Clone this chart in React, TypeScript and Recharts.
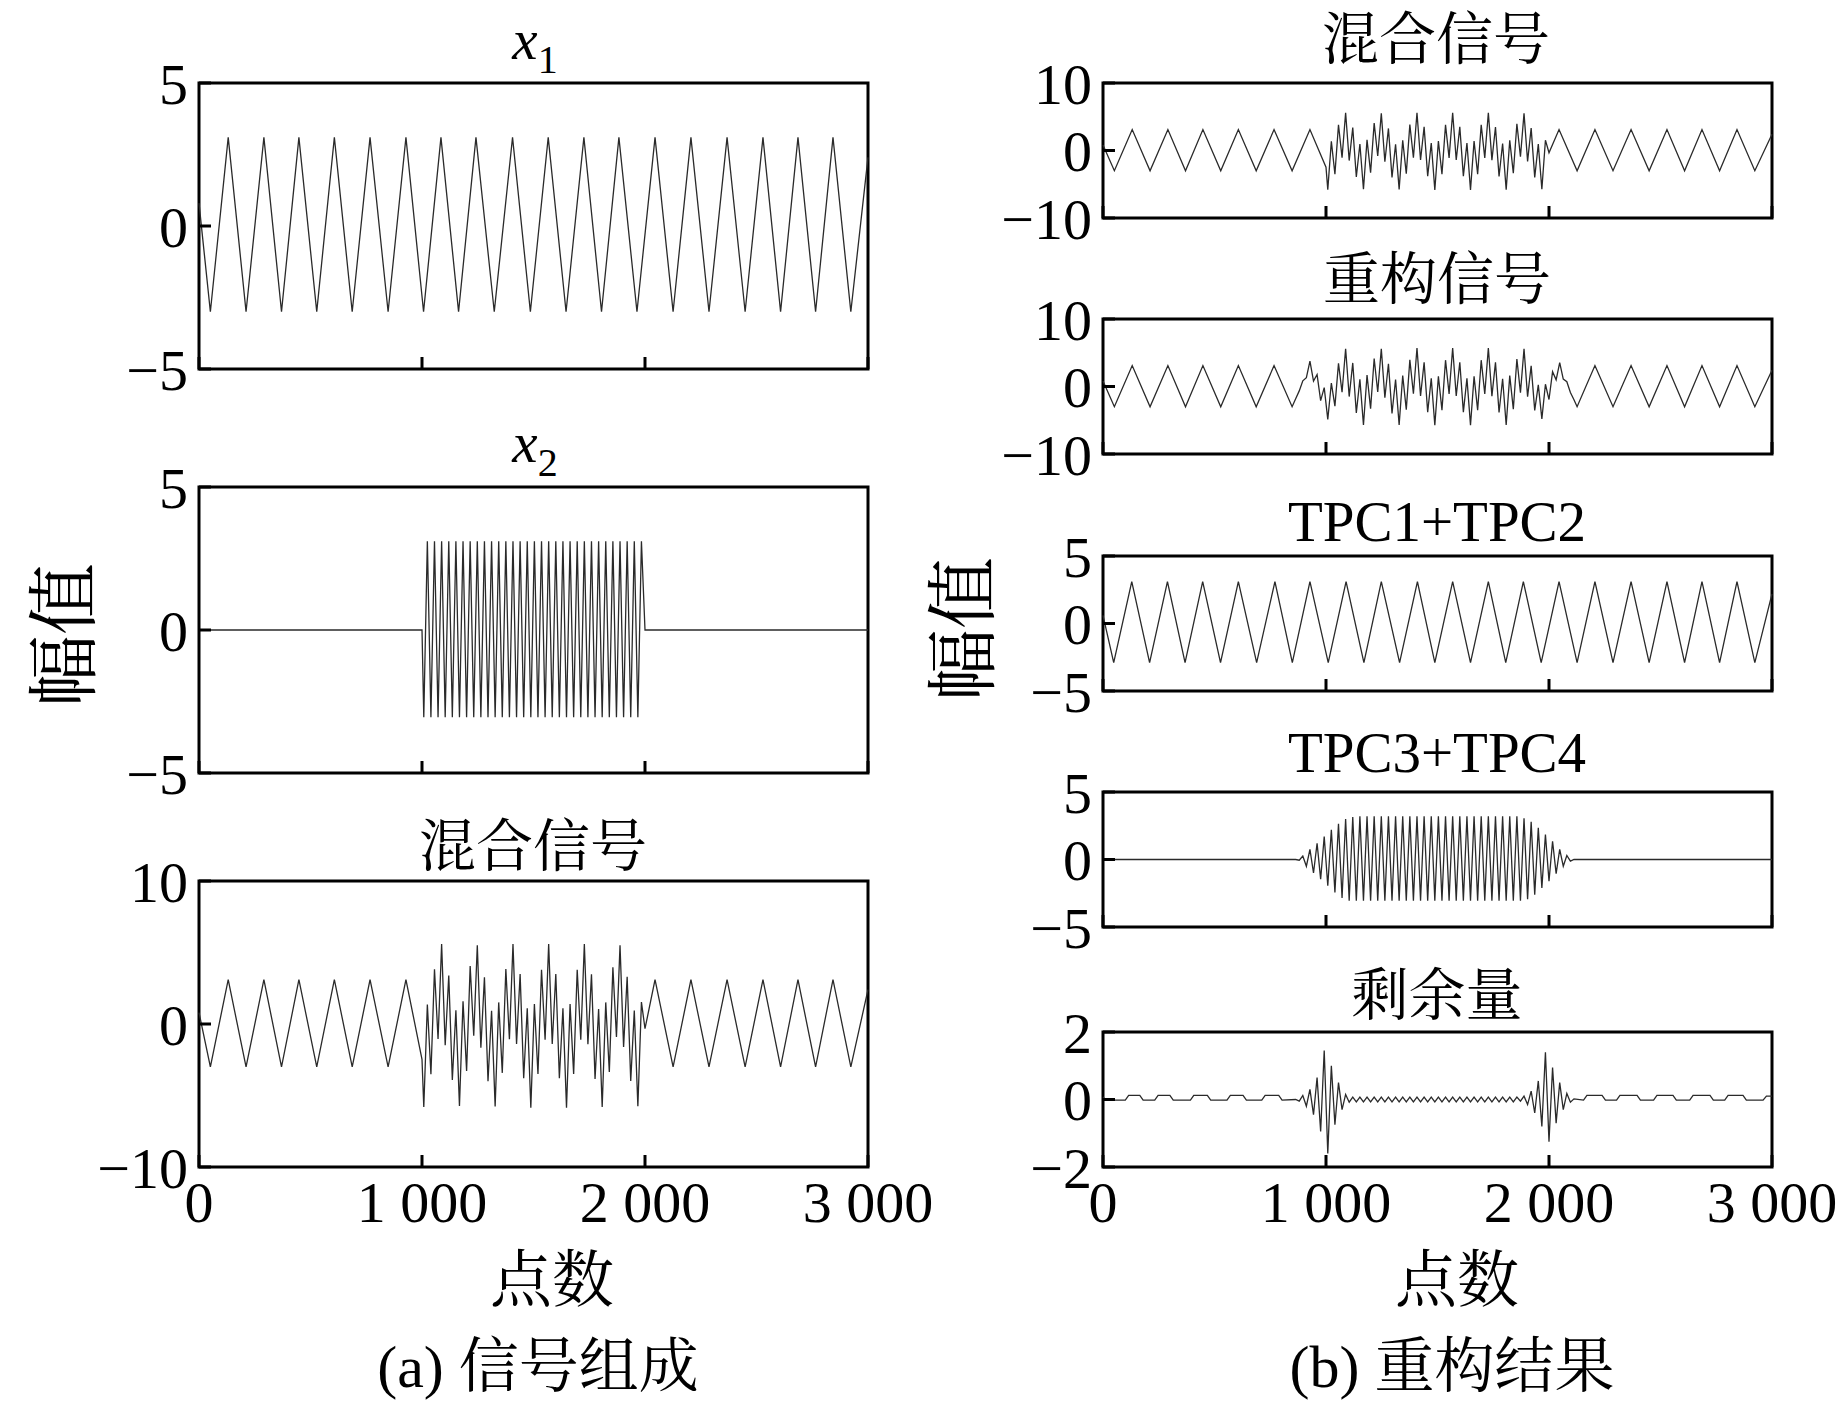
import { LineChart, Line, XAxis, YAxis, ReferenceArea } from "recharts";

type Pt = [number, number];

const X_TICKS = [0, 1000, 2000, 3000];

// x1: low-frequency component (peak / trough vertices)
const x1Signal: Pt[] = [
  [0, 0.8], [51, -3.0], [131, 3.1], [211, -3.0], [291, 3.1], [370, -3.0], [448, 3.1],
  [528, -3.0], [607, 3.1], [687, -3.0], [767, 3.1], [848, -3.0], [928, 3.1], [1007, -3.0],
  [1085, 3.1], [1164, -3.0], [1242, 3.1], [1324, -3.0], [1406, 3.1], [1486, -3.0],
  [1566, 3.1], [1646, -3.0], [1726, 3.1], [1805, -3.0], [1883, 3.1], [1964, -3.0],
  [2045, 3.1], [2126, -3.0], [2206, 3.1], [2287, -3.0], [2368, 3.1], [2449, -3.0],
  [2529, 3.1], [2608, -3.0], [2686, 3.1], [2765, -3.0], [2843, 3.1], [2923, -3.0], [3000, 2.4],
];

// x2: high-frequency burst between 1000 and 2000
const x2Signal: Pt[] = [
  [0, 0], [1000, 0],
  [1008, -3.05], [1024, 3.1], [1040, -3.05], [1056, 3.1], [1072, -3.05], [1088, 3.1],
  [1104, -3.05], [1120, 3.1], [1136, -3.05], [1152, 3.1], [1168, -3.05], [1184, 3.1],
  [1200, -3.05], [1216, 3.1], [1232, -3.05], [1248, 3.1], [1264, -3.05], [1280, 3.1],
  [1296, -3.05], [1312, 3.1], [1328, -3.05], [1344, 3.1], [1360, -3.05], [1376, 3.1],
  [1392, -3.05], [1408, 3.1], [1424, -3.05], [1440, 3.1], [1456, -3.05], [1472, 3.1],
  [1488, -3.05], [1504, 3.1], [1520, -3.05], [1536, 3.1], [1552, -3.05], [1568, 3.1],
  [1584, -3.05], [1600, 3.1], [1616, -3.05], [1632, 3.1], [1648, -3.05], [1664, 3.1],
  [1680, -3.05], [1696, 3.1], [1712, -3.05], [1728, 3.1], [1744, -3.05], [1760, 3.1],
  [1776, -3.05], [1792, 3.1], [1808, -3.05], [1824, 3.1], [1840, -3.05], [1856, 3.1],
  [1872, -3.05], [1888, 3.1], [1904, -3.05], [1920, 3.1], [1936, -3.05], [1952, 3.1],
  [1968, -3.05], [1984, 3.1], [2000, 0], [3000, 0],
];

// mixed signal
const mixedSignal: Pt[] = [
  [0, 0.8], [51, -3.0], [131, 3.1], [211, -3.0], [291, 3.1], [370, -3.0], [448, 3.1],
  [528, -3.0], [607, 3.1], [687, -3.0], [767, 3.1], [848, -3.0], [928, 3.1], [1000, -2.47],
  [1008, -5.8], [1024, 1.36], [1040, -3.51], [1056, 3.82], [1072, -1.05], [1088, 5.6],
  [1104, -1.49], [1120, 3.39], [1136, -3.92], [1152, 0.96], [1168, -5.74], [1184, 1.59],
  [1200, -3.28], [1216, 4.05], [1232, -0.82], [1248, 5.5], [1264, -1.66], [1280, 3.27],
  [1296, -4.0], [1312, 0.93], [1328, -5.76], [1344, 1.51], [1360, -3.42], [1376, 3.85],
  [1392, -1.07], [1408, 5.6], [1424, -1.4], [1440, 3.5], [1456, -3.8], [1472, 1.1],
  [1488, -5.85], [1504, 1.4], [1520, -3.5], [1536, 3.8], [1552, -1.1], [1568, 5.6],
  [1584, -1.4], [1600, 3.5], [1616, -3.8], [1632, 1.1], [1648, -5.85], [1664, 1.4],
  [1680, -3.5], [1696, 3.8], [1712, -1.1], [1728, 5.6], [1744, -1.42], [1760, 3.47],
  [1776, -3.85], [1792, 1.04], [1808, -5.8], [1824, 1.51], [1840, -3.36], [1856, 3.97],
  [1872, -0.9], [1888, 5.5], [1904, -1.61], [1920, 3.31], [1936, -3.98], [1952, 0.94],
  [1968, -5.75], [1984, 1.53], [2000, -0.33],
  [2045, 3.1], [2126, -3.0], [2206, 3.1], [2287, -3.0], [2368, 3.1], [2449, -3.0],
  [2529, 3.1], [2608, -3.0], [2686, 3.1], [2765, -3.0], [2843, 3.1], [2923, -3.0], [3000, 2.4],
];

// reconstructed signal
const reconSignal: Pt[] = [
  [0, 0.8], [51, -3.0], [131, 3.1], [211, -3.0], [291, 3.1], [370, -3.0], [448, 3.1],
  [528, -3.0], [607, 3.1], [687, -3.0], [767, 3.1], [848, -3.0], [864, -1.8],
  [880, -0.65], [896, 0.85], [912, 1.3], [928, 3.75], [944, 0.79], [960, 1.77],
  [976, -2.09], [992, -0.16], [1008, -4.87], [1024, 0.51], [1040, -2.91], [1056, 3.42],
  [1072, -0.85], [1088, 5.6], [1104, -1.49], [1120, 3.49], [1136, -3.92], [1152, 1.06],
  [1168, -5.7], [1184, 1.69], [1200, -3.28], [1216, 4.15], [1232, -0.82], [1248, 5.6],
  [1264, -1.66], [1280, 3.37], [1296, -4.0], [1312, 1.03], [1328, -5.7], [1344, 1.61],
  [1360, -3.42], [1376, 3.95], [1392, -1.07], [1408, 5.7], [1424, -1.4], [1440, 3.6],
  [1456, -3.8], [1472, 1.2], [1488, -5.75], [1504, 1.5], [1520, -3.5], [1536, 3.9],
  [1552, -1.1], [1568, 5.7], [1584, -1.4], [1600, 3.6], [1616, -3.8], [1632, 1.2],
  [1648, -5.75], [1664, 1.5], [1680, -3.5], [1696, 3.9], [1712, -1.1], [1728, 5.7],
  [1744, -1.42], [1760, 3.57], [1776, -3.85], [1792, 1.14], [1808, -5.7], [1824, 1.61],
  [1840, -3.36], [1856, 4.07], [1872, -0.9], [1888, 5.6], [1904, -1.51], [1920, 3.06],
  [1936, -3.53], [1952, 0.24], [1968, -4.8], [1984, 0.33], [2000, -1.93], [2016, 2.2],
  [2032, 0.99], [2048, 3.53], [2064, 1.09], [2080, 0.71], [2096, -0.9], [2112, -1.96],
  [2126, -3.0], [2206, 3.1], [2287, -3.0], [2368, 3.1], [2449, -3.0],
  [2529, 3.1], [2608, -3.0], [2686, 3.1], [2765, -3.0], [2843, 3.1], [2923, -3.0], [3000, 2.4],
];

// TPC1+TPC2
const tpc12Signal: Pt[] = [
  [0, 0.6], [48, -2.9], [129, 3.1], [209, -2.9], [289, 3.1], [368, -2.9], [447, 3.1],
  [527, -2.9], [607, 3.1], [689, -2.9], [771, 3.1], [849, -2.9], [928, 3.1], [1010, -2.9],
  [1090, 3.1], [1170, -2.9], [1248, 3.1], [1330, -2.9], [1410, 3.1], [1488, -2.9],
  [1568, 3.1], [1648, -2.9], [1728, 3.1], [1806, -2.9], [1885, 3.1], [1965, -2.9],
  [2045, 3.1], [2126, -2.9], [2206, 3.1], [2287, -2.9], [2368, 3.1], [2449, -2.9],
  [2529, 3.1], [2608, -2.9], [2686, 3.1], [2765, -2.9], [2843, 3.1], [2923, -2.9], [3000, 2.2],
];

// TPC3+TPC4
const tpc34Signal: Pt[] = [
  [0, 0], [864, 0],
  [880, -0.05], [896, 0.25], [912, -0.5], [928, 0.75], [944, -1.0], [960, 1.2],
  [976, -1.45], [992, 1.7], [1008, -1.95], [1024, 2.2], [1040, -2.45], [1056, 2.65],
  [1072, -2.85], [1088, 3.0], [1104, -3.05], [1120, 3.15],
  [1136, -3.05], [1152, 3.2], [1168, -3.05], [1184, 3.2], [1200, -3.05], [1216, 3.2],
  [1232, -3.05], [1248, 3.2], [1264, -3.05], [1280, 3.2], [1296, -3.05], [1312, 3.2],
  [1328, -3.05], [1344, 3.2], [1360, -3.05], [1376, 3.2], [1392, -3.05], [1408, 3.2],
  [1424, -3.05], [1440, 3.2], [1456, -3.05], [1472, 3.2], [1488, -3.05], [1504, 3.2],
  [1520, -3.05], [1536, 3.2], [1552, -3.05], [1568, 3.2], [1584, -3.05], [1600, 3.2],
  [1616, -3.05], [1632, 3.2], [1648, -3.05], [1664, 3.2], [1680, -3.05], [1696, 3.2],
  [1712, -3.05], [1728, 3.2], [1744, -3.05], [1760, 3.2], [1776, -3.05], [1792, 3.2],
  [1808, -3.05], [1824, 3.2], [1840, -3.05], [1856, 3.2], [1872, -3.05],
  [1888, 3.05], [1904, -2.95], [1920, 2.8], [1936, -2.6], [1952, 2.35], [1968, -2.1],
  [1984, 1.85], [2000, -1.6], [2016, 1.35], [2032, -1.05], [2048, 0.75], [2064, -0.5],
  [2080, 0.3], [2096, -0.12], [2112, 0], [3000, 0],
];

// residual
const residualSignal: Pt[] = [
  [0, 0.08], [12, -0.02], [100, -0.02], [115, 0.12], [165, 0.12], [180, -0.02],
  [232, -0.02], [247, 0.12], [300, 0.12], [315, -0.02], [392, -0.02], [407, 0.12],
  [468, 0.12], [483, -0.02], [556, -0.02], [571, 0.12], [628, 0.12], [643, -0.02],
  [712, -0.02], [727, 0.12], [788, 0.12], [803, -0.02], [864, 0],
  [880, -0.05], [896, 0.12], [912, -0.2], [928, 0.3], [944, -0.45], [960, 0.65],
  [976, -0.95], [992, 1.45], [1008, -1.6], [1024, 1.0], [1040, -0.75], [1056, 0.5],
  [1072, -0.3], [1088, 0.15], [1104, -0.08],
  [1120, 0.07], [1136, -0.07], [1152, 0.07], [1168, -0.07], [1184, 0.07], [1200, -0.07],
  [1216, 0.07], [1232, -0.07], [1248, 0.07], [1264, -0.07], [1280, 0.07], [1296, -0.07],
  [1312, 0.07], [1328, -0.07], [1344, 0.07], [1360, -0.07], [1376, 0.07], [1392, -0.07],
  [1408, 0.07], [1424, -0.07], [1440, 0.07], [1456, -0.07], [1472, 0.07], [1488, -0.07],
  [1504, 0.07], [1520, -0.07], [1536, 0.07], [1552, -0.07], [1568, 0.07], [1584, -0.07],
  [1600, 0.07], [1616, -0.07], [1632, 0.07], [1648, -0.07], [1664, 0.07], [1680, -0.07],
  [1696, 0.07], [1712, -0.07], [1728, 0.07], [1744, -0.07], [1760, 0.07], [1776, -0.07],
  [1792, 0.07], [1808, -0.07], [1824, 0.07], [1840, -0.07], [1856, 0.07],
  [1872, -0.05], [1888, 0.1], [1904, -0.15], [1920, 0.25], [1936, -0.4], [1952, 0.55],
  [1968, -0.8], [1984, 1.4], [2000, -1.25], [2016, 0.95], [2032, -0.7], [2048, 0.5],
  [2064, -0.3], [2080, 0.18], [2096, -0.08], [2112, 0.02],
  [2155, -0.02], [2170, 0.12], [2238, 0.12], [2253, -0.02], [2303, -0.02], [2318, 0.12],
  [2395, 0.12], [2410, -0.02], [2469, -0.02], [2484, 0.12], [2556, 0.12], [2571, -0.02],
  [2631, -0.02], [2646, 0.12], [2722, 0.12], [2737, -0.02], [2788, -0.02], [2803, 0.12],
  [2870, 0.12], [2885, -0.02], [2960, -0.02], [2975, 0.1], [3000, 0.1],
];

const SERIF =
  '"Liberation Serif", "Times New Roman", "Noto Serif CJK SC", "Noto Sans CJK SC", serif';
const PLOT_W = 669;
const Y_AXIS_W = 150;
const RIGHT_PAD = 80;
const TOP_PAD = 40;

function formatX(v: number): string {
  return v === 0 ? "0" : `${v / 1000} 000`;
}

function formatY(v: number): string {
  return v < 0 ? `\u2212${-v}` : String(v);
}

interface PanelProps {
  left: number;
  top: number;
  height: number;
  yMax: number;
  points: Pt[];
  showX?: boolean;
}

function Panel({ left, top, height, yMax, points, showX = false }: PanelProps) {
  const rows = points.map(([t, v]) => ({ t, v }));
  const xH = showX ? 90 : 40;
  const tickStyle = { fontSize: 58, fill: "#000", fontFamily: SERIF };
  return (
    <div style={{ position: "absolute", left: left - Y_AXIS_W, top: top - TOP_PAD }}>
      <LineChart
        width={Y_AXIS_W + PLOT_W + RIGHT_PAD}
        height={TOP_PAD + height + xH}
        data={rows}
        margin={{ top: TOP_PAD, right: RIGHT_PAD, bottom: 0, left: 0 }}
      >
        <XAxis
          type="number"
          dataKey="t"
          domain={[0, 3000]}
          ticks={X_TICKS}
          interval={0}
          height={xH}
          axisLine={false}
          tickSize={-12}
          tickMargin={26}
          tickLine={{ stroke: "#000", strokeWidth: 3 }}
          tickFormatter={formatX}
          tick={showX ? tickStyle : () => <g />}
        />
        <YAxis
          type="number"
          domain={[-yMax, yMax]}
          ticks={[-yMax, 0, yMax]}
          interval={0}
          width={Y_AXIS_W}
          axisLine={false}
          tickSize={-12}
          tickMargin={23}
          tickLine={{ stroke: "#000", strokeWidth: 3 }}
          tickFormatter={formatY}
          tick={tickStyle}
        />
        <ReferenceArea
          x1={0}
          x2={3000}
          y1={-yMax}
          y2={yMax}
          fill="none"
          fillOpacity={0}
          stroke="#000"
          strokeWidth={3}
        />
        <Line
          type="linear"
          dataKey="v"
          stroke="#2a2a2a"
          strokeWidth={1.3}
          dot={false}
          activeDot={false}
          isAnimationActive={false}
        />
      </LineChart>
    </div>
  );
}

function Title({ cx, cy, size = 57, children }: { cx: number; cy: number; size?: number; children: React.ReactNode }) {
  return (
    <div
      style={{
        position: "absolute",
        left: cx - 300,
        top: cy - size / 2,
        width: 600,
        textAlign: "center",
        fontSize: size,
        lineHeight: `${size}px`,
        fontFamily: SERIF,
        color: "#000",
        whiteSpace: "nowrap",
      }}
    >
      {children}
    </div>
  );
}

function VLabel({ cx, cy, text }: { cx: number; cy: number; text: string }) {
  return (
    <div
      style={{
        position: "absolute",
        left: cx - 150,
        top: cy - 36,
        width: 300,
        height: 72,
        lineHeight: "72px",
        textAlign: "center",
        fontSize: 72,
        fontFamily: SERIF,
        color: "#000",
        transform: "rotate(-90deg)",
      }}
    >
      {text}
    </div>
  );
}

function XVar({ sub }: { sub: string }) {
  return (
    <span>
      <span style={{ fontStyle: "italic" }}>x</span>
      <span style={{ fontSize: 40, position: "relative", top: 14 }}>{sub}</span>
    </span>
  );
}

export default function App() {
  return (
    <div
      style={{
        position: "absolute",
        left: 0,
        top: 0,
        width: 1843,
        height: 1407,
        background: "#fff",
        overflow: "hidden",
      }}
    >
      {/* (a) left column */}
      <Panel left={199} top={83} height={286} yMax={5} points={x1Signal} />
      <Panel left={199} top={487} height={286} yMax={5} points={x2Signal} />
      <Panel left={199} top={881} height={286} yMax={10} points={mixedSignal} showX />
      <Title cx={535} cy={39}><XVar sub="1" /></Title>
      <Title cx={535} cy={442}><XVar sub="2" /></Title>
      <Title cx={533} cy={846}>混合信号</Title>
      <VLabel cx={65} cy={635} text="幅值" />
      <Title cx={552} cy={1281} size={62}>点数</Title>
      <Title cx={538} cy={1367} size={60}>(a) 信号组成</Title>

      {/* (b) right column */}
      <Panel left={1103} top={83} height={135} yMax={10} points={mixedSignal} />
      <Panel left={1103} top={319} height={135} yMax={10} points={reconSignal} />
      <Panel left={1103} top={556} height={135} yMax={5} points={tpc12Signal} />
      <Panel left={1103} top={792} height={135} yMax={5} points={tpc34Signal} />
      <Panel left={1103} top={1032} height={135} yMax={2} points={residualSignal} showX />
      <Title cx={1436} cy={39}>混合信号</Title>
      <Title cx={1437} cy={279}>重构信号</Title>
      <Title cx={1437} cy={521}>TPC1+TPC2</Title>
      <Title cx={1437} cy={752}>TPC3+TPC4</Title>
      <Title cx={1437} cy={995}>剩余量</Title>
      <VLabel cx={964} cy={629} text="幅值" />
      <Title cx={1457} cy={1281} size={62}>点数</Title>
      <Title cx={1452} cy={1367} size={60}>(b) 重构结果</Title>
    </div>
  );
}
